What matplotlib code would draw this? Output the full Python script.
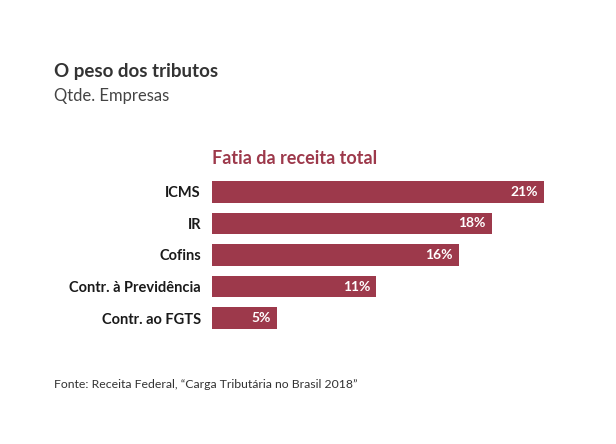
import matplotlib
matplotlib.use("Agg")
import matplotlib.pyplot as plt

# ---------------------------------------------------------------------------
# Data
# ---------------------------------------------------------------------------
CATEGORIES = ["ICMS", "IR", "Cofins", "Contr. à Previdência", "Contr. ao FGTS"]
SHARES     = [21.0, 17.7, 15.6, 10.4, 4.1]      # % of total revenue (bar length)
LABELS     = ["21%", "18%", "16%", "11%", "5%"]

TITLE    = "O peso dos tributos"
SUBTITLE = "Qtde. Empresas"
HEADER   = "Fatia da receita total"
SOURCE   = "Fonte: Receita Federal, \u201cCarga Tributária no Brasil 2018\u201d"

# ---------------------------------------------------------------------------
# Style
# ---------------------------------------------------------------------------
BAR_COLOR = "#9d394b"
FONT = ["Lato", "DejaVu Sans"]
plt.rcParams["font.family"] = FONT

W, H = 616, 444
fig = plt.figure(figsize=(W / 100, H / 100), dpi=100)
fig.patch.set_facecolor("white")

# axes placed in pixel coordinates
x0, x1 = 212, 544
y_top, y_bot = 176, 334
ax = fig.add_axes([x0 / W, 1 - y_bot / H, (x1 - x0) / W, (y_bot - y_top) / H])

ypos = range(len(CATEGORIES))
ax.barh(ypos, SHARES, height=0.68, color=BAR_COLOR, edgecolor="none")
ax.set_xlim(0, max(SHARES))
ax.set_ylim(len(CATEGORIES) - 0.5, -0.5)

for i, (v, lab) in enumerate(zip(SHARES, LABELS)):
    ax.annotate(lab, (v, i), xytext=(-4.5, 0), textcoords="offset points",
                ha="right", va="center", color="white",
                fontsize=10, fontweight="bold")

ax.set_yticks(list(ypos))
ax.set_yticklabels(CATEGORIES, fontsize=10.5, fontweight="bold", color="#1a1a1a")
ax.tick_params(axis="y", length=0, pad=8)
ax.set_xticks([])
for s in ax.spines.values():
    s.set_visible(False)

# texts
fig.text(54 / W, 1 - 72 / H, TITLE, fontsize=13.5, fontweight="bold",
         color="#333333", va="center", ha="left")
fig.text(54 / W, 1 - 96 / H, SUBTITLE, fontsize=12, color="#444444",
         va="center", ha="left")
fig.text(x0 / W, 1 - 159 / H, HEADER, fontsize=13, fontweight="bold",
         color=BAR_COLOR, va="center", ha="left")
fig.text(54 / W, 1 - 384 / H, SOURCE, fontsize=8.8, color="#333333",
         va="center", ha="left")

fig.savefig("out.png", dpi=100, facecolor="white")
